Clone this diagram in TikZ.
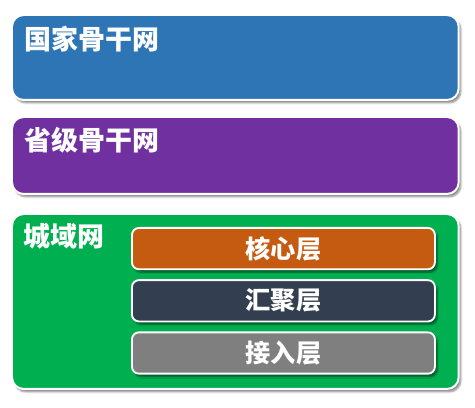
\documentclass[tikz,border=0pt]{standalone}
\usepackage{fontspec}
\newfontfamily\cjk{Noto Sans CJK SC}
\usetikzlibrary{
    positioning,
    shadows.blur,
}

\definecolor{netblue}{HTML}{2E75B6}
\definecolor{netpurple}{HTML}{7030A0}
\definecolor{netgreen}{HTML}{00B050}
\definecolor{laycore}{HTML}{C55A11}
\definecolor{layagg}{HTML}{333F50}
\definecolor{layacc}{HTML}{7F7F7F}

\begin{document}
\begin{tikzpicture}[
    node distance= 0.27cm,
    netbox/.style={draw=white, line width=1.7pt, rounded corners=10pt,
    minimum width=13.4cm, anchor=north west, inner sep=0pt,
    blur shadow={shadow xshift=0.07cm, shadow yshift=-0.09cm,
    shadow blur radius=0.05cm, shadow blur steps=6, shadow opacity=45}},
    laybox/.style={draw=white, line width=1.6pt, rounded corners=6pt,
    minimum width=9.09cm, minimum height=1.24cm, text=white, inner sep=0pt,
    font=\cjk\bfseries\fontsize{21.5}{25}\selectfont,
    blur shadow={shadow xshift=0.07cm, shadow yshift=-0.09cm,
    shadow blur radius=0.05cm, shadow blur steps=6, shadow opacity=50}},
    title/.style={text=white, anchor=west, inner sep=0pt,
    font=\cjk\bfseries\fontsize{23}{27}\selectfont},
]

\useasboundingbox (0,0) rectangle (14.25,12.24);

% BACKBONES
\node[netbox, fill=netblue, minimum height=2.55cm] at (0.33,11.82) (net1) {};
\node[netbox, fill=netpurple, minimum height=2.31cm] at (0.33,8.76) (net2) {};
\node[netbox, fill=netgreen, minimum height=5.25cm] at (0.33,5.85) (net3) {};

% TITLES
\node[title] at (0.72,11.07) (title1) {国家骨干网};
\node[title] at (0.72,8.04) (title2) {省级骨干网};
\node[title] at (0.69,5.16) (title3) {城域网};

% LAYERS
\node[laybox, fill=laycore, anchor=north west] at (3.93,5.43) (lay_1) {核心层};
\node[laybox, fill=layagg] [below=of lay_1] (lay_2) {汇聚层};
\node[laybox, fill=layacc] [below=of lay_2] (lay_3) {接入层};

\end{tikzpicture}
\end{document}
